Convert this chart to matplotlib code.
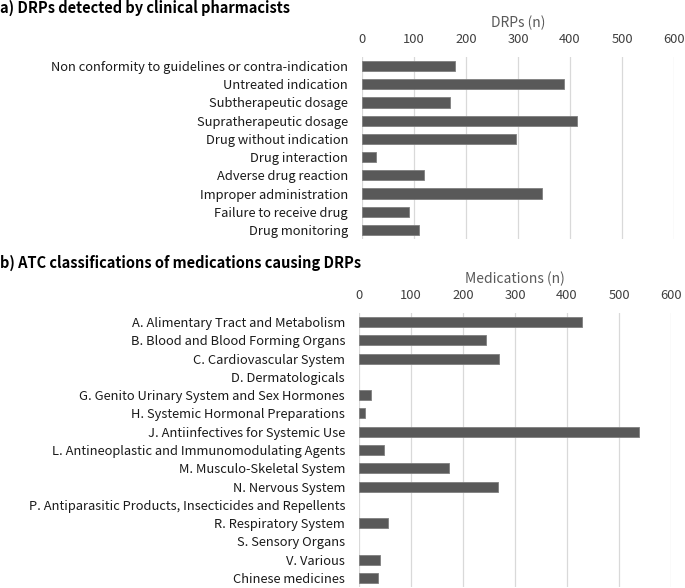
import matplotlib.pyplot as plt

plt.rcParams['font.family'] = ['Noto Sans CJK JP', 'DejaVu Sans']

# Panel a data
drp_types = ['Non conformity to guidelines or contra-indication', 'Untreated indication',
             'Subtherapeutic dosage', 'Supratherapeutic dosage', 'Drug without indication',
             'Drug interaction', 'Adverse drug reaction', 'Improper administration',
             'Failure to receive drug', 'Drug monitoring']
drp_counts = [178, 389, 169, 414, 296, 26, 120, 347, 91, 109]

# Panel b data
atc_classes = ['A. Alimentary Tract and Metabolism', 'B. Blood and Blood Forming Organs',
               'C. Cardiovascular System', 'D. Dermatologicals',
               'G. Genito Urinary System and Sex Hormones', 'H. Systemic Hormonal Preparations',
               'J. Antiinfectives for Systemic Use', 'L. Antineoplastic and Immunomodulating Agents',
               'M. Musculo-Skeletal System', 'N. Nervous System',
               'P. Antiparasitic Products, Insecticides and Repellents', 'R. Respiratory System',
               'S. Sensory Organs', 'V. Various', 'Chinese medicines']
atc_counts = [428, 244, 270, 0, 24, 11, 539, 49, 174, 268, 0, 56, 0, 41, 37]

ticks = [0, 100, 200, 300, 400, 500, 600]

fig = plt.figure(figsize=(6.85, 5.88), dpi=100)
W, H = 685, 588


def px_axes(x0, y0, x1, y1):
    return fig.add_axes([x0 / W, 1 - y1 / H, (x1 - x0) / W, (y1 - y0) / H])


def draw_panel(ax, cats, vals, xlabel):
    n = len(cats)
    # no outline on empty categories
    lw = [0.6 if v > 0 else 0 for v in vals]
    ax.barh(range(n), vals, height=0.55, color='#595959', edgecolor='#7f7f7f', linewidth=lw, zorder=3)
    ax.set_ylim(n - 0.5, -0.5)
    ax.set_xlim(0, 600)
    ax.set_yticks(range(n))
    ax.set_yticklabels(cats, fontsize=9.3, color='#1a1a1a')
    ax.set_xticks(ticks)
    ax.set_xticklabels([str(t) for t in ticks], fontsize=9.3, color='#404040')
    ax.xaxis.tick_top()
    ax.xaxis.set_label_position('top')
    ax.set_xlabel(xlabel, fontsize=10, color='#595959', labelpad=4)
    ax.tick_params(axis='x', length=0, pad=8)
    ax.tick_params(axis='y', length=0, pad=10)
    ax.grid(axis='x', color='#d9d9d9', linewidth=0.9, zorder=0)
    for s in ax.spines.values():
        s.set_visible(False)


ax1 = px_axes(362, 57, 674, 239)
draw_panel(ax1, drp_types, drp_counts, 'DRPs (n)')

ax2 = px_axes(359, 313, 671, 587)
draw_panel(ax2, atc_classes, atc_counts, 'Medications (n)')

fig.text(0.0, 1 - 8 / H, 'a) DRPs detected by clinical pharmacists', fontsize=10.5,
         fontweight='bold', va='center', ha='left')
fig.text(0.0, 1 - 263 / H, 'b) ATC classifications of medications causing DRPs', fontsize=10.5,
         fontweight='bold', va='center', ha='left')

fig.savefig('out.png', dpi=100)
